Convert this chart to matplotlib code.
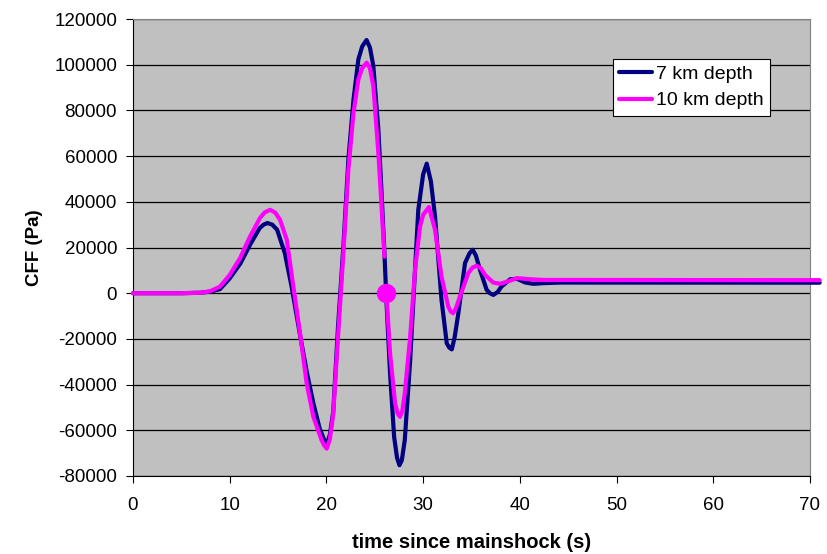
import matplotlib
matplotlib.use('Agg')
import matplotlib.pyplot as plt
import numpy as np

plt.rcParams['font.family'] = ['Liberation Sans', 'DejaVu Sans']
plt.rcParams['axes.unicode_minus'] = False

# 7 km depth (navy)
t7 = [0, 5, 7, 8, 9, 10, 11.1, 12.1, 13.1, 13.5, 13.9, 14.4, 14.9, 15.7, 16.4,
      17.3, 18.0, 18.65, 19.3, 19.7, 20.0, 20.35, 20.7, 21.2, 21.75, 22.27,
      22.8, 23.3, 23.7, 24.15, 24.5, 24.85, 25.37, 25.7, 26.0, 26.2, 26.58,
      27.0, 27.3, 27.55, 27.8, 28.1, 28.65, 29.16, 29.5, 30.0, 30.37, 30.8,
      31.23, 31.9, 32.44, 32.7, 32.96, 33.25, 33.64, 34.33, 34.8, 35.13, 35.45,
      35.88, 36.57, 36.9, 37.26, 37.7, 38.1, 39.0, 39.7, 40.55, 41.4, 42.4,
      44.2, 71]
cff7 = [0, 0, 200, 700, 1800, 6500, 13000, 21200, 28500, 30000, 30700, 30000,
        27800, 17500, 2900, -19000, -35100, -48200, -59200, -63500, -66500,
        -62000, -52000, -14600, 20400, 58500, 84800, 102300, 108000, 110800,
        107500, 99400, 71600, 43900, 17500, -2900, -35100, -62900, -72000,
        -75300, -73000, -64300, -30000, 10200, 36500, 52000, 56700, 49000,
        33600, -2900, -21900, -23800, -24600, -19500, -8800, 13200, 17500,
        19000, 16500, 10200, 1450, 0, -750, 500, 2900, 6100, 6300, 4700, 4100,
        4400, 4650, 4600]

# 10 km depth (magenta), gap just before the marked point
t10 = [0, 5, 7, 8, 9, 10, 11.07, 12.1, 13.13, 13.6, 14.17, 14.7, 15.2, 15.9,
       16.58, 17.27, 17.96, 18.65, 19.5, 19.75, 20.03, 20.35, 20.7, 21.2,
       21.75, 22.27, 22.8, 23.3, 23.7, 24.17, 24.5, 24.85, 25.37, 25.7, 26.0,
       26.1, 26.2, 26.58, 27.1, 27.35, 27.6, 27.85, 28.1, 28.65, 29.16, 29.68,
       30.0, 30.6, 31.23, 31.9, 32.6, 32.85, 33.1, 33.4, 33.8, 34.67, 35.1,
       35.54, 36.0, 36.4, 37.26, 37.95, 39.0, 39.7, 41.05, 42.4, 44.2, 71]
cff10 = [0, 0, 200, 900, 2900, 8000, 15350, 24800, 32900, 35300, 36500, 35300,
         32150, 23400, 2900, -17500, -39500, -54100, -64300, -66500, -68000,
         -64000, -53000, -19000, 17500, 54100, 78900, 93500, 98500, 100900,
         98500, 90600, 61400, 38000, 16000, np.nan, 0, -26300, -48200, -52500,
         -54100, -51500, -43900, -19500, 10200, 29200, 34300, 37700, 27800,
         7300, -5900, -8000, -8800, -6500, -1500, 8800, 11200, 12000, 10800,
         8000, 4650, 4100, 5500, 6600, 6100, 5800, 5800, 5700]

dot_t = [26.2]
dot_cff = [0]

xticks = list(range(0, 71, 10))
yticks = list(range(-80000, 120001, 20000))

fig = plt.figure(figsize=(8.28, 5.54), dpi=100)
ax = fig.add_axes([133/828, 1-476/554, (810-133)/828, (476-19)/554])
ax.set_facecolor('#C0C0C0')

ax.plot(t7, cff7, color='#000080', lw=3, label='7 km depth', clip_on=False,
        solid_capstyle='round', solid_joinstyle='round', zorder=3)
ax.plot(t10, cff10, color='#FF00FF', lw=3, label='10 km depth', clip_on=False,
        solid_capstyle='round', solid_joinstyle='round', zorder=4)
ax.plot(dot_t, dot_cff, 'o', color='#FF00FF', ms=13, zorder=5)

ax.set_xlim(0, 70)
ax.set_ylim(-80000, 120000)
ax.set_xticks(xticks)
ax.set_yticks(yticks)
ax.tick_params(labelsize=13.5, length=5, direction='out', colors='black')
ax.tick_params(axis='x', pad=10)
ax.tick_params(axis='y', pad=6.5)
ax.yaxis.grid(True, color='black', lw=0.9)
ax.set_axisbelow(True)
for s in ['top', 'right']:
    ax.spines[s].set_color('#808080')
for s in ['left', 'bottom']:
    ax.spines[s].set_color('black')

ax.set_xlabel('time since mainshock (s)', fontsize=14.5, fontweight='bold', labelpad=14)
ax.set_ylabel('CFF (Pa)', fontsize=13.5, fontweight='bold', labelpad=8)

leg = ax.legend(loc='upper left', bbox_to_anchor=(0.709, 0.9125), borderaxespad=0,
                fontsize=14, fancybox=False, framealpha=1, edgecolor='black',
                handlelength=1.7, handletextpad=0.2, labelspacing=0.45,
                borderpad=0.33)
leg.get_frame().set_linewidth(0.8)

fig.savefig('out.png', dpi=100)
